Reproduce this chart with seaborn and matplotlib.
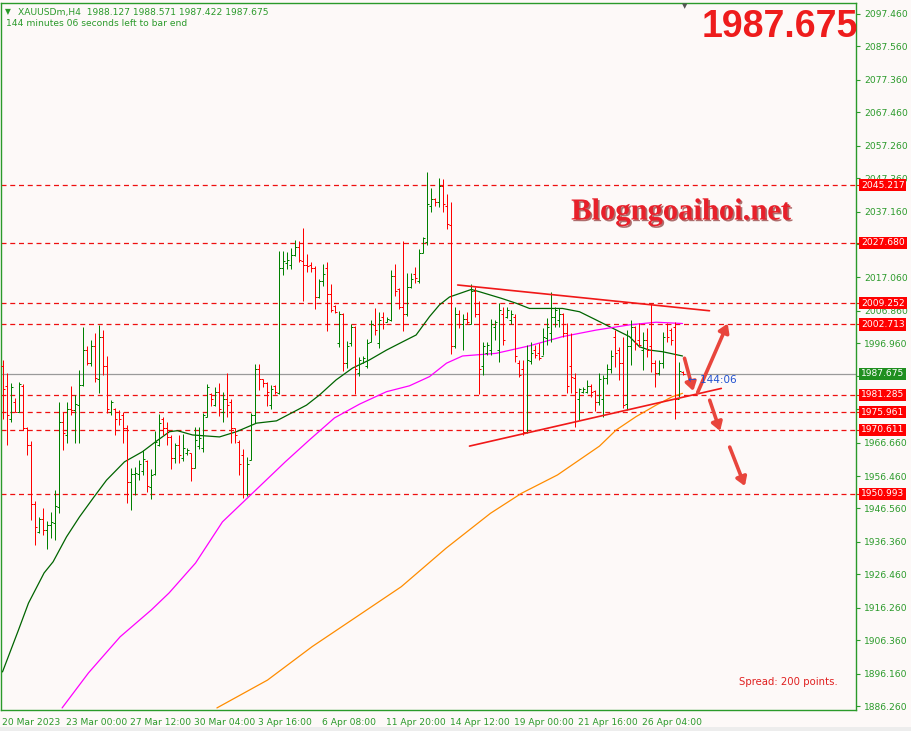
import matplotlib
matplotlib.use("Agg")
import matplotlib.pyplot as plt
import matplotlib.patheffects as pe
from matplotlib.transforms import blended_transform_factory
from matplotlib.patches import FancyArrowPatch
import numpy as np
import pandas as pd
import seaborn as sns

# ---------------- data ----------------
opens = [1990, 1984, 1974, 1979, 1976, 1984, 1971, 1966, 1948, 1939.5,
         1943.5, 1940, 1941.5, 1942, 1947, 1973, 1969, 1977, 1976.5, 1978,
         1984.3, 1995, 1991, 1996, 1986, 1999, 1990, 1976, 1977, 1976,
         1975, 1971, 1954.5, 1957, 1957, 1958, 1961, 1953, 1957, 1966,
         1974, 1971, 1968.5, 1962, 1966, 1962, 1963.5, 1963.5, 1959, 1965.5,
         1965, 1974.6, 1981.5, 1978, 1982, 1976, 1980, 1979, 1971, 1967,
         1963, 1951, 1961.4, 1975, 1989, 1986, 1985, 1978, 1984, 1981.7,
         2020, 2021.5, 2021, 2024, 2026.5, 2022, 2021, 2021, 2020, 2011,
         2016, 2020, 2012, 2008.5, 1997, 2006, 1991, 1997, 2002, 1988,
         1991, 1990, 1997.5, 2002.5, 1997, 2005, 2003.5, 2004, 2017.5, 2013.5,
         2008, 2006, 2014, 2018, 2016, 2024.5, 2028, 2039, 2041, 2040,
         2045, 2039, 2033, 1996, 2006, 2003, 2004.5, 2003, 2013, 2006,
         1990, 1994, 1995, 2002, 1995, 2006, 2005, 2004, 2005, 1991,
         1989, 1970, 1991.5, 1995, 1994, 1993, 1998.5, 2000, 2005, 2004,
         2006, 2000, 1990, 1986.5, 1980, 1982, 1982, 1984, 1982.5, 1979,
         1980, 1986.5, 1989, 1999, 1995, 1991, 1978.5, 1996, 2002, 1998,
         1995, 1998, 1996, 1991, 1988, 1991, 2003, 2001, 2002, 1980,
         1988.127]
highs = [1992, 1987.8, 1984.8, 1980.2, 1985.3, 1984.5, 1971.5, 1967.2, 1948.7, 1944.1,
         1946.6, 1942.6, 1945.6, 1952.2, 1979.2, 1976.1, 1979.2, 1983.9, 1981.2, 1988.8,
         2002, 1996, 1998, 2000, 2002.5, 2001, 1993, 1979.7, 1977.2, 1976.6,
         1976.1, 1972, 1958.8, 1959.3, 1961.4, 1964.4, 1961.4, 1958.5, 1970.3, 1975.4,
         1974.6, 1973, 1969, 1966.4, 1969, 1969.3, 1964.9, 1963.6, 1971.5, 1971.3,
         1975.6, 1984.6, 1981.9, 1983.7, 1985, 1982, 1987.8, 1979.9, 1971.2, 1967.5,
         1964.6, 1962.2, 1975.8, 1990.7, 1990.7, 1986.2, 1985.3, 1984.3, 1984.3, 2025.2,
         2025.1, 2024.7, 2026.2, 2028.5, 2028.2, 2032.3, 2024.1, 2021.7, 2020.7, 2016.6,
         2021.1, 2021.7, 2015, 2008.7, 2006.8, 2006.2, 1997.7, 2003, 2002.2, 1992.9,
         1993.2, 1998.3, 2004.1, 2007.6, 2006.6, 2006.6, 2005.1, 2019.3, 2021.1, 2013.7,
         2028.2, 2018.3, 2018.3, 2020.1, 2025.8, 2029.5, 2049.1, 2044.5, 2041.4, 2047.3,
         2047.1, 2042.4, 2040, 2008, 2007, 2006, 2006.5, 2015, 2014, 2010,
         1997.5, 1997.5, 2004.5, 2004, 2009.2, 2008, 2008.1, 2007, 2006, 1992,
         1991.9, 1996.4, 1997.5, 1996.4, 1997, 2001.5, 2004.6, 2012.7, 2008.1, 2007.6,
         2006.1, 2003.1, 2000, 1987.8, 1983.2, 1983.7, 1985.8, 1984.7, 1982.7, 1987.8,
         1987.3, 1990.8, 1995, 2001, 1995.9, 1999, 2001, 2004.1, 2002.2, 2003.1,
         2000.5, 2001.5, 2009.2, 1991.9, 1991.9, 2000.5, 2003.1, 2001.5, 2003.6, 1991.4,
         1988.571]
lows = [1974, 1966, 1973.1, 1975.9, 1975.9, 1970.5, 1962.9, 1943, 1935.5, 1939.2,
        1938.5, 1934.1, 1937.5, 1937, 1945.1, 1964.4, 1966.5, 1975.1, 1966.5, 1966.5,
        1984, 1990.3, 1989.9, 1985.3, 1981.8, 1987.3, 1975.6, 1975.1, 1969, 1972,
        1966.5, 1948.2, 1946.1, 1950.7, 1955.3, 1956.8, 1951.7, 1949.4, 1956.8, 1965.6,
        1969, 1965.9, 1958.5, 1960.5, 1960.5, 1961.2, 1962.9, 1955, 1958.9, 1964.6,
        1963.9, 1974.6, 1977.8, 1977.7, 1974.8, 1973, 1974.6, 1966.6, 1966.4, 1956.8,
        1949.7, 1950.4, 1961.4, 1972.5, 1982.7, 1983.5, 1977.7, 1976.8, 1981.5, 1981.4,
        2017.8, 2019.6, 2019.6, 2023.7, 2021.7, 2009.9, 2018.6, 2018.6, 2007.4, 2010.7,
        2014.6, 2000.7, 2006.4, 2006.1, 1995.9, 1988.5, 1989.5, 1996, 1981.4, 1987.1,
        1990.9, 1989.3, 1997.5, 1999.5, 1995.6, 2001.3, 2003.4, 2003.8, 2011.5, 2007.4,
        2000.7, 2005.4, 2013.9, 2015.3, 2015.3, 2024.4, 2027, 2037, 2039, 2038.7,
        2037, 2031.8, 1993.6, 1995.5, 2001.5, 1995, 2003, 2003, 2005, 1981.5,
        1987.3, 1993.4, 1993.4, 1998, 1991.4, 1996.5, 2004.6, 2003, 1991.4, 1986.8,
        1969, 1969.5, 1990.8, 1992.4, 1991.9, 1993.4, 1996.4, 1997.5, 2002, 2002,
        1999, 1981.7, 1981.7, 1971.5, 1973.6, 1981.7, 1981.7, 1980.7, 1976.4, 1978.1,
        1974.6, 1984.7, 1987.8, 1989.8, 1985.8, 1977.1, 1976.6, 1990.3, 1994.9, 1995.9,
        1988.8, 1992.9, 1988.3, 1983.7, 1987.3, 1989.3, 1997.5, 1996.4, 1974, 1980.7,
        1987.422]
closes = [1983, 1975, 1983.5, 1976, 1984.5, 1971, 1966, 1948, 1941, 1943.5,
          1940, 1941.5, 1942.5, 1947.2, 1972.9, 1969.6, 1977, 1976.5, 1978.5, 1984.3,
          1995, 1991, 1996, 1986.5, 1999, 1990, 1977, 1979, 1974, 1974,
          1971, 1954.5, 1957, 1957.5, 1960, 1961.6, 1953.5, 1956.8, 1967, 1972.6,
          1971, 1968.5, 1962, 1966, 1963, 1965, 1964.5, 1959, 1967.5, 1968,
          1975, 1983.5, 1980, 1982, 1977, 1980, 1978, 1971, 1969, 1960,
          1951, 1960, 1975, 1989, 1986, 1985, 1982, 1983, 1982, 2020,
          2022, 2022.5, 2024, 2026.5, 2022.5, 2021, 2020.5, 2020, 2011, 2016,
          2018, 2012, 2007, 2006.5, 2006, 1991, 1996, 2002, 1989, 1992,
          1992.5, 1997, 2003, 2001, 2004, 2003, 2004.5, 2017.5, 2013, 2008,
          2006, 2014, 2016.5, 2017, 2024.5, 2029, 2039.5, 2041, 2040, 2045,
          2039.5, 2033.5, 1996, 2006, 2003, 2004.5, 2003.5, 2013, 2006, 1989,
          1996, 1996.5, 2003, 2003.5, 2007, 1998, 2007, 2006, 1993, 1987.3,
          1970, 1992, 1994, 1993.5, 1992.5, 1999, 2002, 2005, 2007, 2006,
          2000, 1984, 1986.8, 1982, 1983, 1983, 1984, 1982, 1979, 1986,
          1986.5, 1989, 1993, 1994, 1991, 1978, 1996, 2002, 1997, 1996.5,
          1998, 1995, 1991, 1988, 1991, 1999, 1999, 1998, 1980, 1988.5,
          1987.675]

green_ma_idx = [0, 4, 6.5, 10.4, 12.65, 16, 19.25, 22.7, 26, 30.5, 35, 38.25,
                41.75, 43.75, 47.5, 54.25, 58.5, 63.5, 68.5, 76, 79.25, 83.4,
                87.5, 91.75, 96, 100, 103.4, 106.75, 109.25, 111.75, 117.2,
                119.25, 124.7, 128.4, 131.75, 140, 144.25, 148.4, 152.5, 156.75,
                159.25, 161.75, 165, 170]
green_ma_val = [1896.7, 1909.5, 1917.7, 1926.9, 1930.3, 1937.9, 1944.0, 1949.8,
                1955.2, 1960.8, 1963.9, 1966.9, 1970.0, 1970.3, 1969.0, 1968.4,
                1970.0, 1972.6, 1973.3, 1978.1, 1981.2, 1985.8, 1989.4, 1991.9,
                1994.9, 1997.4, 1999.5, 2005.1, 2008.7, 2011.1, 2013.4, 2012.7,
                2010.7, 2009.2, 2007.6, 2007.6, 2006.6, 2004.1, 2001.6, 1999.0,
                1995.9, 1994.9, 1994.4, 1993.1]
magenta_ma_idx = [14.9, 21.5, 29.4, 37.2, 41.65, 48.25, 55, 62.9, 70.7, 76.75,
                  83, 89.25, 96, 101.75, 106.75, 111, 115, 123.4, 131.75, 140,
                  148.4, 156.75, 163.4, 168.4, 170]
magenta_ma_val = [1885.7, 1896.4, 1907.4, 1915.6, 1920.8, 1929.9, 1942.5, 1951.7,
                  1960.8, 1967.5, 1974.2, 1978.4, 1982.2, 1984.0, 1986.8, 1990.9,
                  1993.1, 1993.9, 1996.2, 1999.0, 2001.0, 2002.6, 2003.4, 2003.1,
                  2003.0]
orange_ma_idx = [53.6, 66.25, 77.4, 88.5, 99.7, 110.85, 122, 129.75, 138.75,
                 149.25, 153.4, 158.4, 163.4, 167.5, 170]
orange_ma_val = [1885.7, 1894.2, 1904.4, 1913.5, 1922.7, 1934.4, 1945.1, 1951.2,
                 1956.8, 1965.6, 1970.5, 1974.6, 1978.1, 1980.7, 1981.7]

level_prices = [2045.217, 2027.680, 2009.252, 2002.713, 1981.285, 1975.961,
                1970.611, 1950.993]
bid_price = 1987.675

ytick_values = [2097.460, 2087.560, 2077.360, 2067.460, 2057.260, 2047.360,
                2037.160, 2027.260, 2017.060, 2006.860, 1996.960, 1987.060,
                1976.860, 1966.660, 1956.460, 1946.560, 1936.360, 1926.460,
                1916.260, 1906.360, 1896.160, 1886.260]
# labels fully hidden behind the price boxes in the reference
ytick_hidden = [2027.260, 1987.060, 1976.860]
xtick_idx = [0, 16, 32, 48, 64, 80, 96, 112, 128, 144, 160]
xtick_labels = ["20 Mar 2023", "23 Mar 00:00", "27 Mar 12:00", "30 Mar 04:00",
                "3 Apr 16:00", "6 Apr 08:00", "11 Apr 20:00", "14 Apr 12:00",
                "19 Apr 00:00", "21 Apr 16:00", "26 Apr 04:00"]

# trend lines (bar index, price)
upper_trend = [(113.8, 2014.76), (176.75, 2006.9)]
lower_trend = [(116.75, 1965.6), (179.7, 1983.2)]
# arrows (start, end)
arrows = [((170.5, 1992.4), (172.7, 1982.4)),
          ((173.8, 1982.0), (181.3, 2003.0)),
          ((176.8, 1979.6), (179.4, 1970.2)),
          ((181.8, 1965.3), (185.6, 1953.4))]

# ---------------- style ----------------
sns.set_style("white")
plt.rcParams['font.family'] = ['DejaVu Sans']
BG = '#FDF9F8'
FG = '#2A9A2A'
BULL = '#008000'
BEAR = '#FF0000'

W, H = 911, 731
fig = plt.figure(figsize=(W / 100, H / 100), dpi=100, facecolor=BG)
ax = fig.add_axes([1 / W, 21 / H, 855 / W, 707 / H], facecolor=BG)

n = len(opens)
idx = np.arange(n)
df = pd.DataFrame({'i': idx, 'open': opens, 'high': highs, 'low': lows, 'close': closes})
df['color'] = np.where(df['close'] >= df['open'], BULL, BEAR)

# horizontal levels
for p in level_prices:
    ax.axhline(p, color='#EE1010', lw=0.9, ls=(0, (4, 3)), zorder=1)
ax.axhline(bid_price, color='#9A9A9A', lw=0.9, zorder=1)

# moving averages via seaborn
ma_g = pd.DataFrame({'i': green_ma_idx, 'v': green_ma_val})
ma_m = pd.DataFrame({'i': magenta_ma_idx, 'v': magenta_ma_val})
ma_o = pd.DataFrame({'i': orange_ma_idx, 'v': orange_ma_val})
sns.lineplot(data=ma_g, x='i', y='v', ax=ax, color='#006400', lw=0.9, sort=False, zorder=3)
sns.lineplot(data=ma_m, x='i', y='v', ax=ax, color='#FF00FF', lw=0.9, sort=False, zorder=3)
sns.lineplot(data=ma_o, x='i', y='v', ax=ax, color='#FF8C00', lw=0.9, sort=False, zorder=3)

# OHLC bars: exactly 1 px lines, bars centred on pixel centres
lw = 72 / 100
ax.vlines(df['i'], df['low'], df['high'], colors=df['color'], lw=lw, zorder=4, snap=True)
ax.hlines(df['open'], df['i'] - 0.5, df['i'], colors=df['color'], lw=lw, zorder=4, snap=True)
ax.hlines(df['close'], df['i'], df['i'] + 0.5, colors=df['color'], lw=lw, zorder=4, snap=True)

# trend lines
for seg in (upper_trend, lower_trend):
    ax.plot([seg[0][0], seg[1][0]], [seg[0][1], seg[1][1]], color='#F01818', lw=1.2, zorder=5)

# arrows
for (s, e) in arrows:
    ap = FancyArrowPatch(s, e, arrowstyle='-|>,head_length=5,head_width=3.2',
                         color='#E8453C', lw=2.6, zorder=6, shrinkA=0, shrinkB=0)
    ax.add_patch(ap)

# axes limits (4 px per bar)
ax.set_xlim(-0.375, 213.375)
ax.set_ylim(1885.07, 2100.81)

for s in ax.spines.values():
    s.set_color(FG)
    s.set_linewidth(1.0)

ax.yaxis.tick_right()
ax.set_yticks(ytick_values)
ax.set_yticklabels(["" if v in ytick_hidden else f"{v:.3f}" for v in ytick_values])
ax.tick_params(axis='y', direction='out', length=3, width=0.8, color=FG,
               labelcolor=FG, labelsize=6.6, pad=3)
ax.set_xticks(xtick_idx)
ax.set_xticklabels(xtick_labels, ha='left')
ax.tick_params(axis='x', direction='out', length=4, width=0.8, color=FG,
               labelcolor=FG, labelsize=6.6, pad=1.5)
ax.set_xlabel('')
ax.set_ylabel('')

trans = blended_transform_factory(ax.transAxes, ax.transData)
for p in level_prices:
    ax.text(1.006, p, f"{p:.3f}", transform=trans, color='white', fontsize=6.6,
            va='center', ha='left', zorder=10, clip_on=False,
            bbox=dict(boxstyle='square,pad=0.18', fc='#FF0000', ec='none'))
    ax.plot([1.0, 1.005], [p, p], transform=trans, color='#FF0000', lw=0.8, clip_on=False)
ax.text(1.006, bid_price, f"{bid_price:.3f}", transform=trans, color='white', fontsize=6.6,
        va='center', ha='left', zorder=10, clip_on=False,
        bbox=dict(boxstyle='square,pad=0.18', fc='#1F8F1F', ec='none'))

# header texts
fig.text(5 / W, 1 - 12 / H, '\u25BC', color=FG, fontsize=5.5, va='center', ha='left')
fig.text(18 / W, 1 - 12 / H, 'XAUUSDm,H4  1988.127 1988.571 1987.422 1987.675',
         color=FG, fontsize=6.6, va='center', ha='left')
fig.text(6 / W, 1 - 24 / H, '144 minutes 06 seconds left to bar end',
         color=FG, fontsize=6.6, va='center', ha='left')
fig.text(685 / W, 1 - 6 / H, '\u25BC', color='#555555', fontsize=5, va='center', ha='center')

# big price
fig.text(858 / W, 1 - 27 / H, '1987.675', color='#EE1C1C', fontsize=27,
         fontweight='bold', family=['Liberation Sans Narrow', 'Liberation Sans', 'DejaVu Sans'],
         va='center', ha='right')

# watermark
fig.text(681 / W, 1 - 212 / H, 'Blogngoaihoi.net', color='#E8202A', fontsize=22,
         fontweight='bold', family=['Liberation Serif', 'DejaVu Serif'],
         va='center', ha='center',
         path_effects=[pe.withSimplePatchShadow(offset=(1.2, -1.2), shadow_rgbFace='#7A1010', alpha=0.6)])

# countdown
ax.text(171.5, bid_price - 2.0, '\u2190 144:06', color='#2050D0', fontsize=7.5,
        va='center', ha='left', zorder=7)

# spread
fig.text(838 / W, 1 - 682 / H, 'Spread: 200 points.', color='#E02020', fontsize=7.3,
         va='center', ha='right')

# bottom gray strip
fig.patches.append(plt.Rectangle((0, 0), 1, 4 / H, transform=fig.transFigure,
                                 fc='#EDEDED', ec='none'))

fig.savefig('out.png', dpi=100, facecolor=BG)
